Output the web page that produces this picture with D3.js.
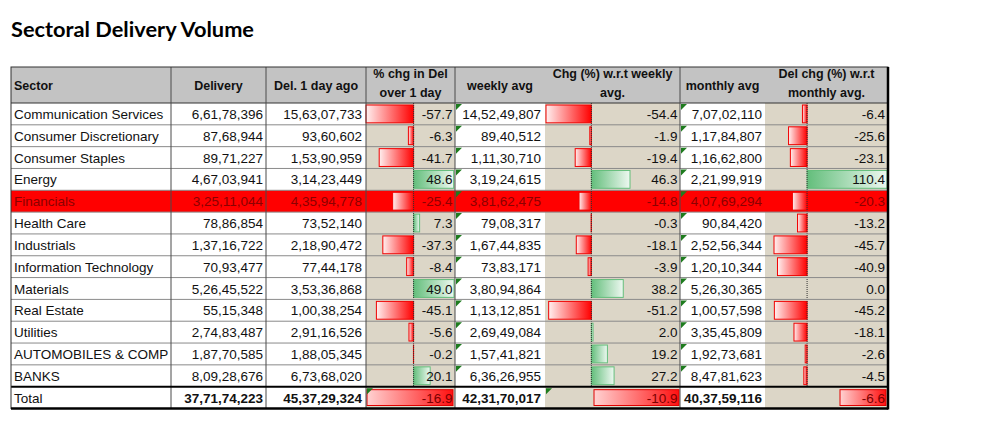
<!DOCTYPE html>
<html>
<head>
<meta charset="utf-8">
<script src="https://cdn.jsdelivr.net/npm/d3@7"></script>
<style>
  body { margin: 0; background: #fff; }
  svg { display: block; }
</style>
</head>
<body>
<svg id="chart"></svg>
<script>
// table values
var sectors = ['Communication Services', 'Consumer Discretionary', 'Consumer Staples', 'Energy',
  'Financials', 'Health Care', 'Industrials', 'Information Technology', 'Materials',
  'Real Estate', 'Utilities', 'AUTOMOBILES & COMPONENTS', 'BANKS'];
var delivery = [66178396, 8768944, 8971227, 46703941, 32511044, 7886854, 13716722, 7093477,
  52645522, 5515348, 27483487, 18770585, 80928676];
var dayAgo = [156307733, 9360602, 15390959, 31423449, 43594778, 7352140, 21890472, 7744178,
  35336868, 10038254, 29116526, 18805345, 67368020];
var chgDay = [-57.7, -6.3, -41.7, 48.6, -25.4, 7.3, -37.3, -8.4, 49.0, -45.1, -5.6, -0.2, 20.1];
var weeklyAvg = [145249807, 8940512, 11130710, 31924615, 38162475, 7908317, 16744835, 7383171,
  38094864, 11312851, 26949084, 15741821, 63626955];
var chgWeek = [-54.4, -1.9, -19.4, 46.3, -14.8, -0.3, -18.1, -3.9, 38.2, -51.2, 2.0, 19.2, 27.2];
var monthlyAvg = [70702110, 11784807, 11662800, 22199919, 40769294, 9084420, 25256344, 12010344,
  52630365, 10057598, 33545809, 19273681, 84781623];
var chgMonth = [-6.4, -25.6, -23.1, 110.4, -20.3, -13.2, -45.7, -40.9, 0.0, -45.2, -18.1, -2.6, -4.5];
var totals = [377174223, 453729324, -16.9, 423170017, -10.9, 403759116, -6.6];
var headers = [['Sector'], ['Delivery'], ['Del. 1 day ago'], ['% chg in Del', 'over 1 day'],
  ['weekly avg'], ['Chg (%) w.r.t weekly', 'avg.'], ['monthly avg'], ['Del chg (%) w.r.t', 'monthly avg.']];
var highlightRow = 'Financials';

var W = 1006, H = 425;
var left = 11, right = 888, headTop = 67, headBottom = 103, tableBottom = 408.5;
var edges = [11, 171, 266, 366, 455, 545, 680, 765, 888];
var beige = '#dcd6c7', headFill = '#c3c3c3';
var font = 'Liberation Sans, Arial, sans-serif';

function indian(n) {
  var s = String(Math.round(Math.abs(n)));
  if (s.length <= 3) return s;
  var rest = s.slice(0, -3), last3 = s.slice(-3);
  return rest.replace(/\B(?=(\d{2})+(?!\d))/g, ',') + ',' + last3;
}
function pct(n) {
  return n.toFixed(1);
}

var svg = d3.select('#chart').attr('width', W).attr('height', H);
svg.append('rect').attr('width', W).attr('height', H).attr('fill', '#fff');

var defs = svg.append('defs');
function grad(id, c0, c1) {
  var g = defs.append('linearGradient').attr('id', id);
  g.append('stop').attr('offset', '0%').attr('stop-color', c0);
  g.append('stop').attr('offset', '100%').attr('stop-color', c1);
}
grad('neg', '#fff0f0', '#ff0000');
grad('pos', '#63be7b', '#eef8f1');
grad('tot', '#ffd2d2', '#ff1010');

svg.append('text').attr('x', 11).attr('y', 37)
  .attr('font-family', 'Lato, sans-serif').attr('font-weight', 700).attr('font-size', 20.5)
  .attr('textLength', 243).attr('lengthAdjust', 'spacingAndGlyphs')
  .attr('fill', '#000').text('Sectoral Delivery Volume');

var nRows = sectors.length;
var y = d3.scaleLinear().domain([0, nRows + 1]).range([headBottom, tableBottom]);
var rowH = y(1) - y(0);
var rows = d3.range(nRows);

// header
svg.append('rect').attr('x', left).attr('y', headTop).attr('width', right - left)
  .attr('height', headBottom - headTop).attr('fill', headFill);
headers.forEach(function (lines, i) {
  var x0 = edges[i], x1 = edges[i + 1];
  var tx = i === 0 ? x0 + 3 : (x0 + x1) / 2;
  var t = svg.append('text').attr('font-family', font).attr('font-weight', 700)
    .attr('font-size', 12.5).attr('fill', '#111')
    .attr('x', tx).attr('text-anchor', i === 0 ? 'start' : 'middle');
  lines.forEach(function (s, k) {
    t.append('tspan').attr('x', tx)
      .attr('y', lines.length === 1 ? 89.5 : 78 + k * 18.5).text(s);
  });
});

// cell backgrounds
var bodyTop = y(0), bodyBottom = y(nRows + 1);
[[3, 4], [5, 6], [7, 8]].forEach(function (p) {
  svg.append('rect').attr('x', edges[p[0]]).attr('y', bodyTop)
    .attr('width', edges[p[1]] - edges[p[0]]).attr('height', bodyBottom - bodyTop).attr('fill', beige);
});
var hi = sectors.indexOf(highlightRow);
svg.append('rect').attr('x', left).attr('y', y(hi)).attr('width', right - left)
  .attr('height', rowH).attr('fill', '#ff0000');

// data bars
var barCols = [
  { values: chgDay, range: [366, 454], total: totals[2], totalRange: [367, 453] },
  { values: chgWeek, range: [546, 630], total: totals[4], totalRange: [594, 679] },
  { values: chgMonth, range: [774, 887], total: totals[6], totalRange: [840, 886] }
];
barCols.forEach(function (col) {
  var x = d3.scaleLinear().domain(d3.extent(col.values)).range(col.range);
  var x0 = x(0);
  svg.append('g').selectAll('rect').data(col.values).join('rect')
    .attr('x', function (d) { return Math.min(x(d), x0); })
    .attr('y', function (d, i) { return y(i) + 2; })
    .attr('width', function (d) { return Math.abs(x(d) - x0); })
    .attr('height', rowH - 4)
    .attr('fill', function (d) { return d < 0 ? 'url(#neg)' : 'url(#pos)'; })
    .attr('stroke', function (d) { return d < 0 ? '#f00000' : '#63be7b'; })
    .attr('stroke-width', 1);
  svg.append('line').attr('x1', x0).attr('x2', x0).attr('y1', bodyTop).attr('y2', y(nRows))
    .attr('stroke', '#333').attr('stroke-dasharray', '1,1');
  var xt = d3.scaleLinear().domain([col.total, 0]).range(col.totalRange);
  svg.append('rect').attr('x', xt(col.total)).attr('y', y(nRows) + 3)
    .attr('width', xt(0) - xt(col.total)).attr('height', rowH - 6)
    .attr('fill', 'url(#tot)').attr('stroke', '#e00000');
});

// grid lines
var grid = svg.append('g');
grid.selectAll('line.h').data(d3.range(1, nRows)).join('line')
  .attr('x1', left).attr('x2', right)
  .attr('y1', function (i) { return y(i); }).attr('y2', function (i) { return y(i); })
  .attr('stroke', '#8a8a8a').attr('stroke-width', 1);
grid.append('line').attr('x1', left).attr('x2', right).attr('y1', headBottom).attr('y2', headBottom)
  .attr('stroke', '#333');
grid.selectAll('line.v').data([1, 2, 3, 4, 6]).join('line')
  .attr('x1', function (i) { return edges[i]; }).attr('x2', function (i) { return edges[i]; })
  .attr('y1', headTop).attr('y2', tableBottom)
  .attr('stroke', '#4a4a4a').attr('stroke-width', 1);

// text
var body = svg.append('g').attr('font-family', font).attr('font-size', 13.5);
function color(i) { return i === hi ? '#8b0000' : '#111'; }
body.append('g').selectAll('text').data(sectors).join('text')
  .attr('x', left + 3).attr('y', function (d, i) { return y(i) + 16; })
  .attr('fill', function (d, i) { return color(i); })
  .text(function (d) { return d; })
  .each(function (d) {
    // cut the label at the cell edge, as the sheet does
    var el = d3.select(this), s = d, maxW = edges[1] - left - 5;
    while (this.getComputedTextLength() > maxW && s.length > 1) {
      s = s.slice(0, -1);
      el.text(s);
    }
  });

var numCols = [
  { values: delivery, x: 263, f: indian },
  { values: dayAgo, x: 362, f: indian },
  { values: chgDay, x: 452.5, f: pct },
  { values: weeklyAvg, x: 541, f: indian },
  { values: chgWeek, x: 677.5, f: pct },
  { values: monthlyAvg, x: 762, f: indian },
  { values: chgMonth, x: 885, f: pct }
];
numCols.forEach(function (col, c) {
  body.append('g').selectAll('text').data(col.values).join('text')
    .attr('x', col.x).attr('text-anchor', 'end')
    .attr('y', function (d, i) { return y(i) + 16; })
    .attr('fill', function (d, i) { return color(i); })
    .text(function (d) { return col.f(d); });
  var isPct = col.f === pct;
  body.append('text').attr('x', col.x).attr('text-anchor', 'end').attr('y', y(nRows) + 16)
    .attr('font-weight', isPct ? 400 : 700).attr('fill', isPct ? '#7a0000' : '#111')
    .text(col.f(totals[c]));
});
body.append('text').attr('x', left + 3).attr('y', y(nRows) + 16).attr('fill', '#111').text('Total');

// comment markers in the corner of the average cells
function tri(x0, y0) {
  return 'M' + x0 + ',' + y0 + 'h6l-6,6z';
}
var marks = svg.append('g').attr('fill', '#1e7b1e');
[edges[4] + 1, edges[6] + 1].forEach(function (mx) {
  marks.selectAll(null).data(rows).join('path')
    .attr('d', function (i) { return tri(mx, y(i) + 1); });
});
marks.append('path').attr('d', tri(edges[3] + 1, y(nRows) + 1.5));
marks.append('path').attr('d', tri(edges[5] + 1, y(nRows) + 1.5));

// borders
svg.append('line').attr('x1', left).attr('x2', right).attr('y1', y(nRows)).attr('y2', y(nRows))
  .attr('stroke', '#000').attr('stroke-width', 2);
svg.append('rect').attr('x', left).attr('y', headTop).attr('width', right - left)
  .attr('height', tableBottom - headTop).attr('fill', 'none').attr('stroke', '#333');
svg.append('line').attr('x1', right).attr('x2', right).attr('y1', headTop).attr('y2', tableBottom + 1)
  .attr('stroke', '#000').attr('stroke-width', 2.5);
svg.append('line').attr('x1', left).attr('x2', right).attr('y1', tableBottom).attr('y2', tableBottom)
  .attr('stroke', '#000').attr('stroke-width', 2.5);
</script>
</body>
</html>
